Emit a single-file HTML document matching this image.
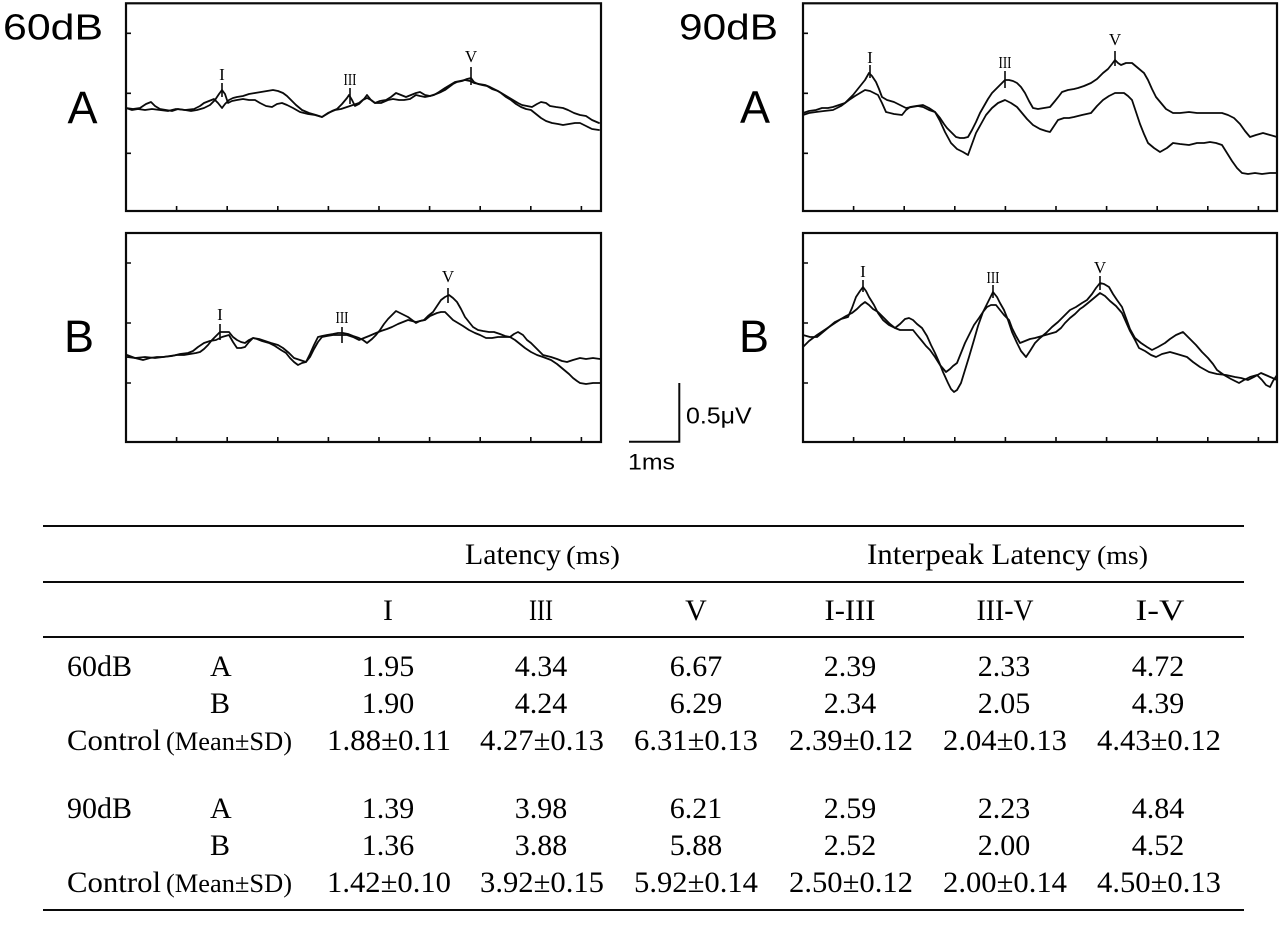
<!DOCTYPE html>
<html><head><meta charset="utf-8"><style>
html,body{margin:0;padding:0;background:#fff;}
svg{display:block;}
.sans{font-family:"Liberation Sans",Arial,sans-serif;}
.serif{font-family:"Liberation Serif","Times New Roman",serif;}
.tr{fill:none;stroke:#0a0a0a;stroke-width:1.8;stroke-linejoin:round;stroke-linecap:round;}
.bx{fill:none;stroke:#0a0a0a;stroke-width:2.2;}
.tk{stroke:#0a0a0a;stroke-width:1.6;}
</style></head><body>
<svg width="1282" height="928" viewBox="0 0 1282 928" xmlns="http://www.w3.org/2000/svg">
<rect width="1282" height="928" fill="#fff"/>

<g class="sans" fill="#000">
<text x="3" y="39.5" font-size="36" textLength="100" lengthAdjust="spacingAndGlyphs">60dB</text>
<text x="67.5" y="123" font-size="45">A</text>
<text x="64" y="352" font-size="45">B</text>
<text x="679" y="39.5" font-size="36" textLength="99" lengthAdjust="spacingAndGlyphs">90dB</text>
<text x="740" y="122.5" font-size="45">A</text>
<text x="739" y="352" font-size="45">B</text>
</g>

<rect class="bx" x="126" y="3.3" width="475" height="207.7"/>
<rect class="bx" x="126" y="233" width="475" height="209"/>
<rect class="bx" x="803" y="3.3" width="474" height="207.7"/>
<rect class="bx" x="803" y="233" width="474" height="209"/>

<g class="tk">
<path d="M126 33.3h5M126 93.3h5M126 153.3h5 M126 263h5M126 323h5M126 383h5 M803 33.3h5M803 93.3h5M803 153.3h5 M803 263h5M803 323h5M803 383h5"/>
<path d="M176.6 211v-5M227.2 211v-5M277.8 211v-5M328.4 211v-5M379 211v-5M429.6 211v-5M480.2 211v-5M530.8 211v-5M581.4 211v-5"/>
<path d="M176.6 442v-5M227.2 442v-5M277.8 442v-5M328.4 442v-5M379 442v-5M429.6 442v-5M480.2 442v-5M530.8 442v-5M581.4 442v-5"/>
<path d="M853.6 211v-5M904.2 211v-5M954.8 211v-5M1005.4 211v-5M1056 211v-5M1106.6 211v-5M1157.2 211v-5M1207.8 211v-5M1258.4 211v-5"/>
<path d="M853.6 442v-5M904.2 442v-5M954.8 442v-5M1005.4 442v-5M1056 442v-5M1106.6 442v-5M1157.2 442v-5M1207.8 442v-5M1258.4 442v-5"/>
</g>

<polyline class="tr" points="126,108 133,109 140,108 146,104 151,102 155,106 160,109 166,110 172,111 178,109 185,110 191,111 197,110 204,108 210,105 215,100 219,94 222,90 225,94 228,103 232,101 237,100 243,99 249,100 255,100 260,103 266,106 272,107 277,104 282,103 287,105 293,108 300,112 308,114 315,115 322,117 327,114 332,111 337,109 342,104 347,98 349,95 352,100 355,106 359,104 363,100 367,98 371,100 375,103 381,103 388,100 393,99 399,100 404,100 410,99 416,95 420,96 425,97 430,96 436,94 441,92 445,90 449,87 453,84 457,82 462,81 467,79 471,78 474,82 478,84 482,85 487,86 492,89 498,91 503,94 508,97 513,100 518,103 522,105 527,106 532,107 537,104 541,102 546,103 550,106 556,107 563,108 568,110 574,113 580,115 586,116 592,120 599,123"/>
<polyline class="tr" points="126,108 132,110 138,109 145,110 152,109 160,110 168,111 176,109 185,110 194,109 200,106 204,103 209,101 214,99 218,103 222,108 225,104 229,100 233,98 237,97 243,96 249,94 255,93 261,92 267,91 273,90 278,91 283,93 287,96 291,100 296,105 302,110 309,113 316,115 322,117 328,113 335,110 341,109 347,107 353,105 359,103 364,99 367,95 371,100 375,103 380,101 386,100 391,97 396,93 401,95 406,97 411,95 416,93 420,92 425,95 430,96 434,95 439,92 445,88 450,85 455,82 460,81 465,80 470,81 474,83 479,84 485,85 490,87 496,90 501,93 506,97 511,100 516,104 521,107 526,109 531,110 536,114 541,118 546,121 552,123 558,124 563,125 569,124 575,123 580,123 586,126 592,129 599,130"/>

<polyline class="tr" points="803,113 809,111 816,110 822,108 828,108 833,107 839,105 845,103 849,99 853,95 857,90 861,85 865,80 869,73 872,76 876,82 879,89 882,97 887,100 894,102 900,105 906,108 912,107 918,106 923,107 929,110 935,112 940,118 944,124 947,128 952,133 956,137 960,138 964,138 968,137 972,130 976,122 980,113 984,106 988,99 992,93 997,88 1001,84 1005,80 1009,80 1013,81 1017,83 1021,87 1025,93 1029,101 1033,108 1038,109 1044,108 1050,107 1055,101 1059,96 1062,92 1068,90 1074,89 1078,88 1084,86 1091,83 1097,79 1103,73 1108,69 1112,64 1115,60 1118,63 1121,65 1126,63 1132,63 1138,68 1144,73 1148,80 1152,89 1156,97 1161,103 1166,109 1173,113 1180,113 1189,112 1197,113 1205,113 1214,113 1222,113 1228,115 1234,118 1240,124 1245,131 1250,137 1256,135 1263,133 1270,135 1277,137"/>
<polyline class="tr" points="803,115 809,113 816,112 824,111 833,110 841,106 849,100 855,96 860,93 865,90 870,91 874,93 878,95 882,103 886,112 894,114 902,115 906,110 910,107 916,106 923,105 929,108 935,112 940,121 945,132 951,143 957,149 963,152 968,155 972,144 976,133 981,124 986,115 992,108 998,103 1005,100 1011,103 1017,107 1022,113 1027,119 1033,125 1040,129 1046,131 1050,132 1054,126 1058,120 1064,118 1069,118 1074,117 1082,115 1091,113 1097,106 1103,100 1109,96 1115,93 1120,93 1124,93 1128,96 1132,100 1136,112 1140,124 1144,134 1148,143 1154,148 1160,152 1167,148 1173,143 1180,144 1189,145 1197,143 1204,143 1210,142 1216,143 1222,145 1227,153 1232,161 1237,168 1242,173 1248,174 1255,173 1262,174 1270,173 1277,173"/>

<polyline class="tr" points="127,355 135,358 143,360 150,358 157,357 163,357 170,356 177,355 184,355 190,354 196,353 200,352 204,349 208,345 212,340 216,336 220,332 224,332 229,332 233,337 237,340 241,342 245,343 249,340 253,338 257,339 262,341 269,343 275,346 281,350 286,353 290,358 294,362 298,365 302,363 306,362 310,354 314,345 318,337 322,336 327,335 333,334 338,333 343,333 348,334 353,336 359,338 363,340 367,343 372,339 376,335 380,330 384,324 388,319 392,315 396,311 400,313 404,315 408,317 412,320 416,323 420,321 424,320 428,316 433,312 437,306 441,300 445,297 449,295 453,298 457,302 461,309 465,317 469,322 473,327 478,330 483,331 489,332 494,332 500,334 505,336 510,337 514,334 518,332 523,335 527,340 531,343 535,347 539,351 543,355 547,356 551,357 557,359 562,361 567,362 573,360 580,358 586,359 593,358 600,359"/>
<polyline class="tr" points="127,357 135,358 145,357 155,358 163,357 172,356 180,354 188,353 193,351 198,347 204,343 210,341 216,340 222,337 229,335 233,342 237,348 241,348 245,347 249,342 253,338 259,339 265,341 271,343 278,345 283,348 289,353 294,358 300,360 306,362 310,357 314,349 318,342 322,337 327,336 333,335 339,335 347,335 353,337 359,340 364,338 369,336 376,333 381,331 387,329 392,327 398,324 403,322 408,320 412,321 416,322 420,321 425,320 430,316 437,313 441,312 445,312 449,316 453,320 458,323 463,326 469,330 475,333 480,335 486,338 492,338 498,337 504,337 510,337 515,340 520,344 525,348 531,352 537,355 543,357 551,360 557,364 563,369 569,374 573,378 577,381 580,383 586,384 593,383 600,383"/>

<polyline class="tr" points="803,335 810,337 817,337 823,332 829,327 835,322 841,319 848,317 852,308 856,297 860,291 863,287 866,291 869,297 874,305 878,313 883,320 889,325 895,328 900,324 905,319 909,318 913,320 917,324 922,328 927,336 931,345 935,353 939,362 943,372 948,383 951,389 954,392 957,390 961,383 965,370 969,357 974,340 978,326 983,312 988,302 993,292 997,297 1000,303 1004,310 1008,320 1012,332 1017,343 1021,351 1026,357 1030,351 1035,343 1040,338 1046,333 1052,327 1058,322 1064,316 1070,310 1076,307 1082,303 1087,300 1092,294 1096,288 1100,283 1104,284 1109,287 1113,294 1117,300 1122,307 1126,318 1130,329 1135,338 1141,343 1147,347 1152,350 1158,347 1165,343 1170,339 1176,335 1183,332 1187,336 1191,340 1196,345 1202,352 1208,358 1213,364 1217,370 1224,375 1231,379 1239,383 1244,380 1250,377 1257,375 1262,380 1266,385 1270,387 1273,381 1277,375"/>
<polyline class="tr" points="803,347 809,341 817,335 823,331 829,327 835,323 841,319 846,316 852,313 857,309 861,305 865,302 869,305 873,309 878,312 884,318 890,324 895,328 900,330 906,330 913,330 917,335 922,341 926,346 930,350 935,357 940,365 946,372 950,369 953,366 957,363 961,353 965,343 970,333 974,325 979,318 983,312 987,307 991,305 996,305 1000,310 1004,315 1009,320 1012,328 1016,336 1020,343 1025,341 1030,339 1035,338 1042,336 1049,334 1056,332 1061,328 1065,323 1070,318 1075,314 1080,309 1083,307 1088,303 1094,298 1100,293 1105,296 1110,301 1116,306 1122,313 1126,322 1130,331 1135,340 1139,348 1145,351 1151,355 1156,357 1162,354 1170,352 1177,354 1187,357 1193,362 1200,367 1209,372 1217,374 1226,375 1235,377 1241,378 1248,380 1254,377 1261,373 1268,376 1277,380"/>

<g class="tk">
<path d="M222 83V97 M350 88V104 M471 67V85"/>
<path d="M870 65V78 M1005 71V88 M1115 51V66"/>
<path d="M220 324V340 M342 327V343 M448 288V303"/>
<path d="M863 280V292 M993 285V298 M1100 276V290"/>
</g>
<g class="serif" fill="#000" font-size="17" text-anchor="middle">
<text x="222" y="80">I</text>
<text x="350" y="85" textLength="13" lengthAdjust="spacingAndGlyphs">III</text>
<text x="471" y="62">V</text>
<text x="870" y="63">I</text>
<text x="1005" y="68" textLength="13" lengthAdjust="spacingAndGlyphs">III</text>
<text x="1115" y="45">V</text>
<text x="220" y="320">I</text>
<text x="342" y="323" textLength="13" lengthAdjust="spacingAndGlyphs">III</text>
<text x="448" y="282">V</text>
<text x="863" y="277">I</text>
<text x="993" y="283" textLength="13" lengthAdjust="spacingAndGlyphs">III</text>
<text x="1100" y="273">V</text>
</g>

<path d="M629 441.7H679.3V383" fill="none" stroke="#0a0a0a" stroke-width="2"/>
<g class="sans" fill="#000">
<text x="686" y="423.3" font-size="23" textLength="65.7" lengthAdjust="spacingAndGlyphs">0.5μV</text>
<text x="628" y="469.3" font-size="22.5" textLength="47" lengthAdjust="spacingAndGlyphs">1ms</text>
</g>

<g stroke="#0a0a0a" stroke-width="2">
<line x1="43" y1="526" x2="1244" y2="526"/>
<line x1="43" y1="582" x2="1244" y2="582"/>
<line x1="43" y1="637" x2="1244" y2="637"/>
<line x1="43" y1="910" x2="1244" y2="910"/>
</g>
<g class="serif" fill="#000" font-size="30">
<text x="465" y="564" textLength="96" lengthAdjust="spacingAndGlyphs">Latency</text>
<text x="566" y="564" font-size="26" textLength="54" lengthAdjust="spacingAndGlyphs">(ms)</text>
<text x="867" y="564" textLength="224" lengthAdjust="spacingAndGlyphs">Interpeak Latency</text>
<text x="1097" y="564" font-size="26" textLength="51" lengthAdjust="spacingAndGlyphs">(ms)</text>

<g text-anchor="middle">
<text x="388" y="620">I</text>
<text x="541" y="620" textLength="24" lengthAdjust="spacingAndGlyphs">III</text>
<text x="696" y="620">V</text>
<text x="850" y="620" textLength="51" lengthAdjust="spacingAndGlyphs">I-III</text>
<text x="1005" y="620" textLength="57" lengthAdjust="spacingAndGlyphs">III-V</text>
<text x="1160" y="620" textLength="49" lengthAdjust="spacingAndGlyphs">I-V</text>
</g>

<text x="67" y="676">60dB</text>
<text x="210" y="676">A</text>
<text x="210" y="713">B</text>
<text x="67" y="750" textLength="94" lengthAdjust="spacingAndGlyphs">Control</text>
<text x="166" y="750" font-size="26" textLength="126" lengthAdjust="spacingAndGlyphs">(Mean±SD)</text>

<text x="67" y="818">90dB</text>
<text x="210" y="818">A</text>
<text x="210" y="855">B</text>
<text x="67" y="892" textLength="94" lengthAdjust="spacingAndGlyphs">Control</text>
<text x="166" y="892" font-size="26" textLength="126" lengthAdjust="spacingAndGlyphs">(Mean±SD)</text>

<g text-anchor="middle">
<text x="388" y="676">1.95</text><text x="541" y="676">4.34</text><text x="696" y="676">6.67</text><text x="850" y="676">2.39</text><text x="1004" y="676">2.33</text><text x="1158" y="676">4.72</text>
<text x="388" y="713">1.90</text><text x="541" y="713">4.24</text><text x="696" y="713">6.29</text><text x="850" y="713">2.34</text><text x="1004" y="713">2.05</text><text x="1158" y="713">4.39</text>
<text x="389" y="750" textLength="124" lengthAdjust="spacingAndGlyphs">1.88±0.11</text>
<text x="542" y="750" textLength="124" lengthAdjust="spacingAndGlyphs">4.27±0.13</text>
<text x="696" y="750" textLength="124" lengthAdjust="spacingAndGlyphs">6.31±0.13</text>
<text x="851" y="750" textLength="124" lengthAdjust="spacingAndGlyphs">2.39±0.12</text>
<text x="1005" y="750" textLength="124" lengthAdjust="spacingAndGlyphs">2.04±0.13</text>
<text x="1159" y="750" textLength="124" lengthAdjust="spacingAndGlyphs">4.43±0.12</text>

<text x="388" y="818">1.39</text><text x="541" y="818">3.98</text><text x="696" y="818">6.21</text><text x="850" y="818">2.59</text><text x="1004" y="818">2.23</text><text x="1158" y="818">4.84</text>
<text x="388" y="855">1.36</text><text x="541" y="855">3.88</text><text x="696" y="855">5.88</text><text x="850" y="855">2.52</text><text x="1004" y="855">2.00</text><text x="1158" y="855">4.52</text>
<text x="389" y="892" textLength="124" lengthAdjust="spacingAndGlyphs">1.42±0.10</text>
<text x="542" y="892" textLength="124" lengthAdjust="spacingAndGlyphs">3.92±0.15</text>
<text x="696" y="892" textLength="124" lengthAdjust="spacingAndGlyphs">5.92±0.14</text>
<text x="851" y="892" textLength="124" lengthAdjust="spacingAndGlyphs">2.50±0.12</text>
<text x="1005" y="892" textLength="124" lengthAdjust="spacingAndGlyphs">2.00±0.14</text>
<text x="1159" y="892" textLength="124" lengthAdjust="spacingAndGlyphs">4.50±0.13</text>
</g>
</g>
</svg>
</body></html>
